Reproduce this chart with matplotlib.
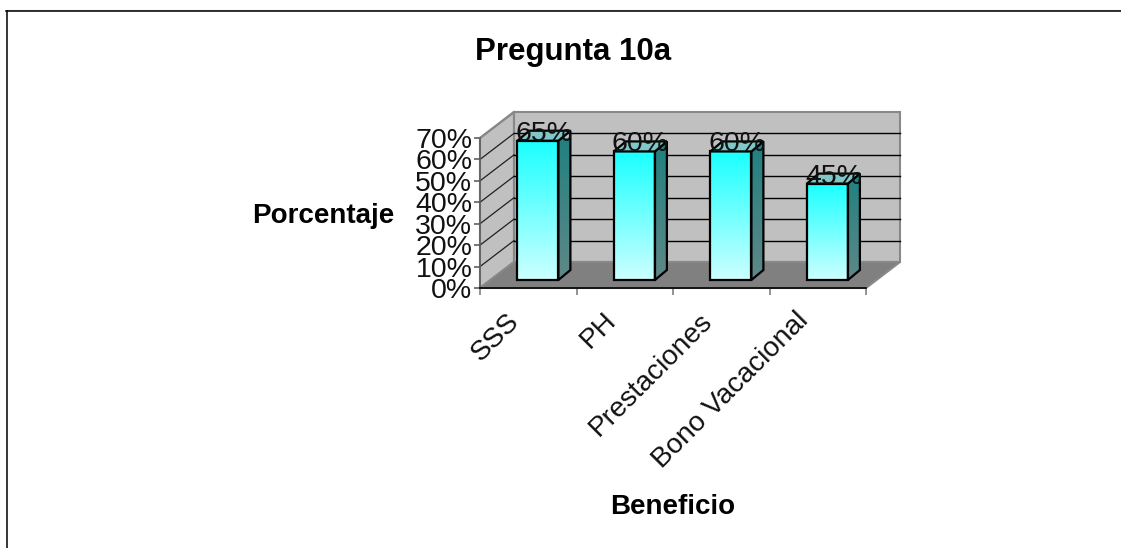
import numpy as np
import matplotlib
matplotlib.use("Agg")
import matplotlib.pyplot as plt
from matplotlib.colors import LinearSegmentedColormap
from matplotlib.patches import Polygon
from matplotlib.lines import Line2D
from matplotlib.transforms import ScaledTranslation

categories = ["SSS", "PH", "Prestaciones", "Bono Vacacional"]
values = [65, 60, 60, 45]
y_ticks = [0, 10, 20, 30, 40, 50, 60, 70]

plt.rcParams["font.family"] = ["Liberation Sans", "DejaVu Sans"]

W, H = 1121, 548
fig = plt.figure(figsize=(W / 100, H / 100), dpi=100)
ax = fig.add_axes([480 / W, (H - 288) / H, 386 / W, 150 / H])
ax.set_xlim(-0.5, 3.5)
ax.set_ylim(0, 70)
ax.patch.set_visible(False)

# Oblique projection: the receding axis shifts right and up
DX = 4 * 34 / 386
DY = 70 * 26 / 150
XMIN, XMAX, YMAX = -0.5, 3.5, 70
BAR_WIDTH = 41 / 96.5
BAR_DX = 12 / 96.5
BAR_DY = 70 * 10 / 150
FLOOR_X = 0.1
FLOOR_Y = 70 * 8 / 150


def face(points, color, z, edge="#888888", lw=1.5):
    p = Polygon(points, closed=True, facecolor=color, edgecolor=edge,
                linewidth=lw, clip_on=False, zorder=z, joinstyle="miter")
    ax.add_patch(p)
    return p


# Walls and floor
face([(XMIN, 0), (XMIN, YMAX), (XMIN + DX, YMAX + DY), (XMIN + DX, DY)], "#C0C0C0", 1)
face([(XMIN + DX, DY), (XMIN + DX, YMAX + DY), (XMAX + DX, YMAX + DY), (XMAX + DX, DY)], "#C0C0C0", 1)
face([(XMIN, 0), (XMAX, 0), (XMAX + DX, DY), (XMIN + DX, DY)], "#808080", 1)

# Gridlines running along the side wall and across the back wall
for t in y_ticks[1:]:
    ax.add_line(Line2D([XMIN, XMIN + DX], [t, t + DY], color="#888888" if t == 70 else "#202020",
                       lw=1.5 if t == 70 else 0.9, clip_on=False, zorder=2))
    if t < 70:
        ax.add_line(Line2D([XMIN + DX, XMAX + DX], [t + DY, t + DY], color="black",
                           lw=1.0, clip_on=False, zorder=2))

front_cmap = LinearSegmentedColormap.from_list("front", ["#CCFFFF", "#1AFFFF"])
side_cmap = LinearSegmentedColormap.from_list("side", ["#608888", "#1F8080"])
ramp = np.linspace(0, 1, 128).reshape(-1, 1)

for i, v in enumerate(values):
    left = i + FLOOR_X - BAR_WIDTH / 2
    right = left + BAR_WIDTH
    base = FLOOR_Y
    top = base + v

    # Front face gradient, with the outline from a bar on top
    ax.imshow(ramp, origin="lower", cmap=front_cmap, aspect="auto",
              extent=(left - 0.012, right, base, top), zorder=3, clip_on=False)
    ax.bar(i + FLOOR_X, v, BAR_WIDTH, bottom=base, facecolor="none",
           edgecolor="black", linewidth=1.6, zorder=4, clip_on=False)

    # Side face gradient
    side = face([(right, base), (right, top), (right + BAR_DX, top + BAR_DY),
                 (right + BAR_DX, base + BAR_DY)], "none", 4, edge="black", lw=1.6)
    im = ax.imshow(ramp, origin="lower", cmap=side_cmap, aspect="auto",
                   extent=(right, right + BAR_DX, base, top + BAR_DY), zorder=3)
    im.set_clip_path(side)

    # Top face
    face([(left, top), (right, top), (right + BAR_DX, top + BAR_DY),
          (left + BAR_DX, top + BAR_DY)], "#80C8C8", 4, edge="black", lw=1.6)

    ax.text(i + FLOOR_X + BAR_DX / 2, top, f"{v}%", ha="center", va="baseline",
            fontsize=20.5, color="#111111", zorder=6, clip_on=False)

ax.set_xlim(XMIN, XMAX)
ax.set_ylim(0, YMAX)

# Axes
for s in ("top", "right"):
    ax.spines[s].set_visible(False)
ax.spines["left"].set_color("#606060")
ax.spines["left"].set_linewidth(1.2)
ax.spines["bottom"].set_color("black")
ax.spines["bottom"].set_linewidth(1.2)
for s in ax.spines.values():
    s.set_zorder(5)

ax.set_yticks(y_ticks)
ax.set_yticklabels([f"{t}%" for t in y_ticks], fontsize=20.5, color="#111111")
ax.tick_params(axis="y", length=4, width=1.2, color="#606060", pad=1.5)

ax.set_xticks(np.arange(XMIN, XMAX + 0.5, 1))
ax.set_xticklabels([])
ax.tick_params(axis="x", which="major", length=5, width=1.2, color="#808080")
ax.set_xticks(np.arange(len(categories)), minor=True)
ax.set_xticklabels(categories, minor=True, rotation=45, ha="right",
                   rotation_mode="anchor", fontsize=20.2, color="#111111")
ax.tick_params(axis="x", which="minor", length=0, pad=10)

# Category labels sit left of their slot centres and a little lower
label_shift = ScaledTranslation(-22 / 100, -6 / 100, fig.dpi_scale_trans)
for label in ax.get_xticklabels(minor=True):
    label.set_transform(label.get_transform() + label_shift)

ax.set_title("Pregunta 10a", fontsize=22.5, fontweight="bold",
             x=(573 - 480) / 386, y=(288 - 60) / 150, pad=0)
ax.set_ylabel("Porcentaje", rotation=0, fontsize=20, fontweight="bold",
              ha="center", va="center")
ax.yaxis.set_label_coords((323 - 480) / 386, (288 - 216) / 150)
ax.set_xlabel("Beneficio", fontsize=20, fontweight="bold", ha="center", va="center")
ax.xaxis.set_label_coords((673 - 480) / 386, (288 - 507) / 150)

# Frame lines of the chart area along the top and left edges
fig.add_artist(Line2D([6 / W, 1], [1 - 9.5 / H, 1 - 9.5 / H], color="#C0C0C0", lw=0.8))
fig.add_artist(Line2D([6.5 / W, 6.5 / W], [0, 1 - 10.5 / H], color="black", lw=1.1))
fig.add_artist(Line2D([6 / W, 1], [1 - 10.5 / H, 1 - 10.5 / H], color="black", lw=1.1))

fig.savefig("out.png", dpi=100)
